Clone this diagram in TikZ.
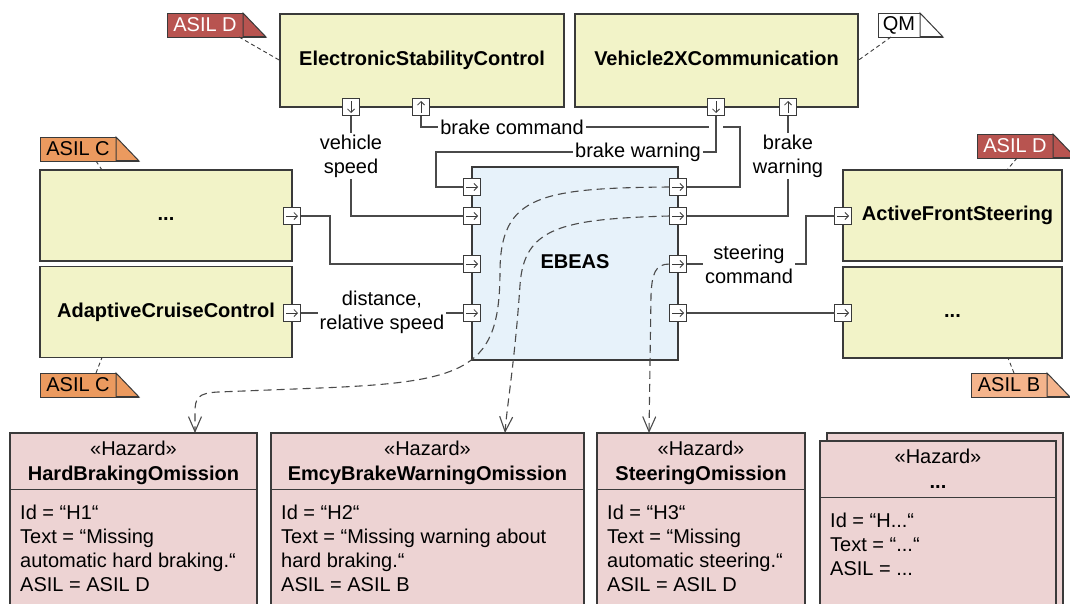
\documentclass[tikz,border=0pt]{standalone}
\usepackage{fontspec}
\setmainfont{Liberation Sans}
\usetikzlibrary{arrows.meta,calc}

\definecolor{compfill}{HTML}{F2F3C8}
\definecolor{ebfill}{HTML}{E7F2FA}
\definecolor{hazfill}{HTML}{EDD3D3}
\definecolor{asild}{HTML}{B85450}
\definecolor{asilc}{HTML}{EB9A5F}
\definecolor{asilb}{HTML}{F4B48C}
\definecolor{lineclr}{HTML}{3A3A3A}
\definecolor{wireclr}{HTML}{4A4A4A}

\newcommand\basefont{\fontsize{20pt}{24pt}\selectfont}

\tikzset{
  comp/.style={draw=lineclr, line width=1.4pt, fill=compfill, inner sep=0pt, outer sep=0pt,
    font=\basefont\bfseries, text height=14.5pt, text depth=4pt},
  ebeas/.style={comp, fill=ebfill},
  portbox/.style={draw=lineclr, line width=1pt, fill=white, minimum size=17pt, inner sep=0pt, outer sep=0pt},
  portarrow/.style={draw=lineclr, line width=0.8pt, -{Straight Barb[length=3.5pt,width=7pt]}},
  wire/.style={draw=wireclr, line width=1.3pt},
  lbl/.style={fill=white, inner sep=2pt, align=center},
  trace/.style={draw=wireclr, line width=1.1pt, dash pattern=on 8pt off 5pt,
    -{Straight Barb[length=15pt,width=13pt]}},
  notelink/.style={draw=lineclr, line width=0.9pt, dash pattern=on 4pt off 3pt},
  hazard/.style={draw=lineclr, line width=1.3pt, fill=hazfill, inner sep=0pt, outer sep=0pt,
    anchor=north west, minimum height=200pt},
  hzline/.style={anchor=base west, inner sep=0pt},
}

% ports: name, x, y
\newcommand\mkportR[3]{\node[portbox] (#1) at (#2,#3) {};
  \draw[portarrow] ([xshift=-6pt]#1.center) -- ([xshift=6pt]#1.center);}
\newcommand\mkportD[3]{\node[portbox] (#1) at (#2,#3) {};
  \draw[portarrow] ([yshift=6pt]#1.center) -- ([yshift=-6pt]#1.center);}
\newcommand\mkportU[3]{\node[portbox] (#1) at (#2,#3) {};
  \draw[portarrow] ([yshift=-6pt]#1.center) -- ([yshift=6pt]#1.center);}

% ASIL tag: name, x, y, label width, fill, text colour, text
\newcommand\asilnote[7]{%
  \node[draw=lineclr, line width=1pt, fill=#5, text=#6, minimum width=#4pt, minimum height=24pt,
    inner sep=0pt, outer sep=0pt, anchor=north west] (#1) at (#2,#3) {#7};
  \filldraw[draw=lineclr, line width=1pt, fill=#5] (#1.north east) -- ++(23,24) -- (#1.south east) -- cycle;
  \draw[lineclr, line width=2pt] (#1.south east) -- ++(23,0);
}

\begin{document}
\begin{tikzpicture}[x=1pt,y=-1pt,font=\basefont]
\useasboundingbox (0,0) rectangle (1070,603);

% components
\node[comp, minimum width=284pt, minimum height=93pt] (esc) at (422,60.5) {ElectronicStabilityControl};
\node[comp, minimum width=283pt, minimum height=93pt] (v2x) at (716.5,60.5) {Vehicle2XCommunication};
\node[comp, minimum width=252pt, minimum height=91pt] (lp) at (166,215.5) {...};
\node[comp, minimum width=252pt, minimum height=91pt] (acc) at (166,312) {AdaptiveCruiseControl};
\node[ebeas, minimum width=206pt, minimum height=193pt] (eb) at (575,263.5) {EBEAS};
\node[comp, minimum width=219pt, minimum height=91pt] (afs) at (952.5,215.5) {\hspace*{10pt}ActiveFrontSteering};
\node[comp, minimum width=219pt, minimum height=91pt] (rd) at (952.5,312.5) {...};

% hazards
\node[hazard, minimum width=247pt] (hz1) at (10,433) {};
\node[hazard, minimum width=313pt] (hz2) at (271,433) {};
\node[hazard, minimum width=208pt] (hz3) at (597,433) {};
\node[hazard, minimum width=236pt] (hz4b) at (827,433) {};
\node[hazard, minimum width=236pt] (hz4) at (820,441) {};
\foreach \h in {hz1,hz2,hz3,hz4}{
  \draw[lineclr, line width=1.3pt] ($(\h.north west)+(0,56.5)$) -- ($(\h.north east)+(0,56.5)$);
  \node[anchor=base, inner sep=0pt] (\h st) at ($(\h.north)+(0,22.5)$) {«Hazard»};
}
\node[anchor=base, inner sep=0pt, font=\basefont\bfseries] (hz1t) at ($(hz1.north)+(0,47)$) {HardBrakingOmission};
\node[anchor=base, inner sep=0pt, font=\basefont\bfseries] (hz2t) at ($(hz2.north)+(0,47)$) {EmcyBrakeWarningOmission};
\node[anchor=base, inner sep=0pt, font=\basefont\bfseries] (hz3t) at ($(hz3.north)+(0,47)$) {SteeringOmission};
\node[anchor=base, inner sep=0pt, font=\basefont\bfseries] (hz4t) at ($(hz4.north)+(0,47)$) {...};

\node[hzline] (hz1a) at ($(hz1.north west)+(10,86)$) {Id = “H1“};
\node[hzline] (hz1b) at ($(hz1.north west)+(10,110)$) {Text = “Missing};
\node[hzline] (hz1c) at ($(hz1.north west)+(10,134)$) {automatic hard braking.“};
\node[hzline] (hz1d) at ($(hz1.north west)+(10,158)$) {ASIL = ASIL D};

\node[hzline] (hz2a) at ($(hz2.north west)+(10,86)$) {Id = “H2“};
\node[hzline] (hz2b) at ($(hz2.north west)+(10,110)$) {Text = “Missing warning about};
\node[hzline] (hz2c) at ($(hz2.north west)+(10,134)$) {hard braking.“};
\node[hzline] (hz2d) at ($(hz2.north west)+(10,158)$) {ASIL = ASIL B};

\node[hzline] (hz3a) at ($(hz3.north west)+(10,86)$) {Id = “H3“};
\node[hzline] (hz3b) at ($(hz3.north west)+(10,110)$) {Text = “Missing};
\node[hzline] (hz3c) at ($(hz3.north west)+(10,134)$) {automatic steering.“};
\node[hzline] (hz3d) at ($(hz3.north west)+(10,158)$) {ASIL = ASIL D};

\node[hzline] (hz4a) at ($(hz4.north west)+(10,86)$) {Id = “H...“};
\node[hzline] (hz4b2) at ($(hz4.north west)+(10,110)$) {Text = “...“};
\node[hzline] (hz4c) at ($(hz4.north west)+(10,134)$) {ASIL = ...};

% ASIL tags
\asilnote{nEsc}{167}{13}{76}{asild}{white}{ASIL D}
\asilnote{nV2x}{878}{13}{42}{white}{black}{QM}
\asilnote{nLp}{40}{137}{76}{asilc}{black}{ASIL C}
\asilnote{nAcc}{40}{373}{76}{asilc}{black}{ASIL C}
\asilnote{nAfs}{977}{134}{76}{asild}{white}{ASIL D}
\asilnote{nRd}{971}{373}{76}{asilb}{black}{ASIL B}

\draw[notelink] ($(nEsc.south east)+(-4,0)$) -- (esc.west);
\draw[notelink] ($(nV2x.south west)+(13,0)$) -- (v2x.east);
\draw[notelink] ($(nLp.south west)+(56,0)$) -- ($(lp.north west)+(62,0)$);
\draw[notelink] ($(nAcc.north west)+(56,0)$) -- ($(acc.south west)+(62,0)$);
\draw[notelink] ($(nAfs.south west)+(40,0)$) -- ($(afs.north west)+(164,0)$);
\draw[notelink] ($(nRd.north west)+(43,0)$) -- ($(rd.south west)+(165,0)$);

% ports
\mkportD{escD}{351}{107}
\mkportU{escU}{421}{107}
\mkportD{v2xD}{716}{107}
\mkportU{v2xU}{788}{107}
\mkportR{lpR}{292}{216}
\mkportR{accR}{292}{313}
\mkportR{ebL1}{472}{187}
\mkportR{ebL2}{472}{216}
\mkportR{ebL3}{472}{264}
\mkportR{ebL4}{472}{313}
\mkportR{ebR1}{678}{187}
\mkportR{ebR2}{678}{216}
\mkportR{ebR3}{678}{264}
\mkportR{ebR4}{678}{313}
\mkportR{afsL}{843}{216}
\mkportR{rdL}{843}{313}

% signal wires
\coordinate (bcTop) at (740,127);
\coordinate (bwBend) at (436,152);
\coordinate (dotsBend) at (330,216);
\coordinate (stBend) at (806,264);

\draw[wire] (escD.south) |- (ebL2.west);
\draw[wire] (ebR1.east) -| (bcTop) -- (escU.south |- bcTop) -- (escU.south);
\draw[white, line width=3.5pt] ($(v2xD.south |- bcTop)+(-7,0)$) -- ($(v2xD.south |- bcTop)+(7,0)$);
\draw[wire] (v2xD.south) |- (bwBend) |- (ebL1.west);
\draw[wire] (ebR2.east) -| (v2xU.south);
\draw[wire] (lpR.east) -- (dotsBend) |- (ebL3.west);
\draw[wire] (accR.east) -- (ebL4.west);
\draw[wire] (ebR3.east) -- (stBend) |- (afsL.west);
\draw[wire] (ebR4.east) -- (rdL.west);

\node[lbl] (lVs) at (351,156) {vehicle\\speed};
\node[lbl] (lBc) at (512,127) {brake command};
\node[lbl] (lBw) at (638,152) {brake warning};
\node[lbl] (lBw2) at (788,156) {brake\\warning};
\node[lbl] (lDist) at (382,312) {distance,\\relative speed};
\node[lbl] (lSt) at (749,264) {steering\\command};

% traces from EBEAS outputs to hazards
\coordinate (h1in) at ($(hz1.north west)+(185,0)$);
\coordinate (h2in) at ($(hz2.north west)+(234,0)$);
\coordinate (h3in) at ($(hz3.north west)+(52,0)$);

\draw[trace] (ebR1.west) .. controls (540,188) and (501,196) .. (500,270)
  .. controls (500,368) and (470,382) .. (320,388) -- (218,392)
  .. controls (198,393) and (195,398) .. (195,412) -- (h1in);
\draw[trace] (ebR2.west) .. controls (560,219) and (524,228) .. (520,285)
  .. controls (515,360) and (507,405) .. (h2in);
\draw[trace] (ebR3.west) .. controls (655,264) and (652,274) .. (651,295) -- (h3in);

\end{tikzpicture}
\end{document}
